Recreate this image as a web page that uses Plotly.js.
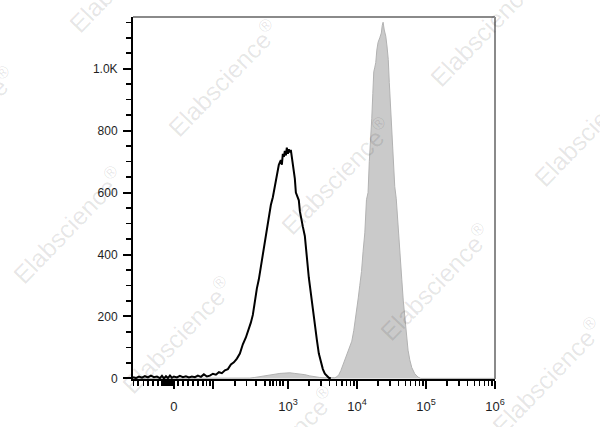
<!DOCTYPE html>
<html><head><meta charset="utf-8">
<script src="https://cdn.plot.ly/plotly-3.0.1.min.js"></script>
<style>html,body{margin:0;padding:0;background:#fff;} #chart{width:600px;height:427px;}</style>
</head><body><div id="chart"></div>
<script>
// x values are in biexponential display units (decades): 0 -> 1.343, 10^3 -> 3, 10^4 -> 4 ...
const unstainedX = [0.749,0.793,0.836,0.880,0.923,0.967,1.010,1.054,1.097,1.141,1.170,1.199,1.228,1.257,1.286,1.314,1.343,1.387,1.430,1.474,1.517,1.561,1.604,1.648,1.691,1.735,1.778,1.822,1.865,1.909,1.952,1.996,2.039,2.083,2.126,2.170,2.213,2.257,2.300,2.343,2.387,2.430,2.459,2.488,2.517,2.546,2.575,2.604,2.633,2.662,2.691,2.720,2.749,2.778,2.807,2.836,2.865,2.894,2.909,2.923,2.938,2.952,2.967,2.981,2.996,3.010,3.025,3.039,3.054,3.068,3.083,3.097,3.112,3.126,3.155,3.170,3.184,3.213,3.242,3.271,3.300,3.329,3.358,3.387,3.416,3.445,3.474,3.503,3.532,3.561,3.590,3.619];
const unstainedY = [4,1,6,2,7,3,9,4,6,1,8,0,7,1,9,2,6,3,8,4,7,3,6,4,9,5,13,6,9,15,12,20,17,26,30,45,52,64,80,110,132,158,180,205,250,290,320,360,405,435,490,530,560,585,625,650,690,705,690,725,715,735,720,745,725,740,730,738,715,700,670,645,600,590,575,540,520,490,460,380,325,275,220,170,125,80,50,30,15,7,2,0];

const stainedX = [0.749,2.400,2.445,2.517,2.590,2.662,2.735,2.807,2.880,2.952,3.025,3.097,3.170,3.242,3.314,3.387,3.459,3.532,3.604,3.677,3.706,3.735,3.764,3.797,3.836,3.865,3.894,3.923,3.952,3.991,4.017,4.039,4.064,4.087,4.112,4.136,4.159,4.177,4.194,4.213,4.228,4.242,4.257,4.271,4.286,4.304,4.329,4.351,4.365,4.377,4.394,4.416,4.435,4.452,4.467,4.481,4.499,4.517,4.532,4.546,4.568,4.590,4.619,4.648,4.670,4.691,4.713,4.739,4.764,4.793,4.836,4.884,4.923,6.0];
const stainedY = [0,0,1,3,6,9,12,14,16,17,18,16,15,12,8,5,3,2,1,2,5,12,25,45,65,80,100,120,155,210,260,300,345,410,470,577,600,700,760,840,920,990,1005,1020,1060,1085,1100,1115,1140,1150,1125,1105,1070,1030,955,900,800,720,665,620,580,500,415,320,250,200,130,91,60,35,15,4,0,0];

const xTickVals = [1.343, 1.913, 3, 4, 5, 6];
const xTickText = ['0', '', '10<sup>3</sup>', '10<sup>4</sup>', '10<sup>5</sup>', '10<sup>6</sup>'];
const xMinorVals = [0.754,0.826,0.899,0.971,1.043,1.116,1.170,1.199,1.228,1.249,1.271,1.293,1.314,1.406,1.478,1.551,1.623,1.696,1.768,1.817,1.865,
  2.228,2.397,2.532,2.662,2.735,2.778,2.832,2.880,2.928,
  3.301,3.477,3.602,3.699,3.778,3.845,3.903,3.954,
  4.301,4.477,4.602,4.699,4.778,4.845,4.903,4.954,
  5.301,5.477,5.602,5.699,5.778,5.845,5.903,5.954];
const yTickVals = [0, 200, 400, 600, 800, 1000];
const yTickText = ['0', '200', '400', '600', '800', '1.0K'];

const L = 133, R = 495, T = 17, B = 379;
function px2paper(px, py) { return [(px - L) / (R - L), (B - py) / (B - T)]; }
const wmCenters = [[124,-26],[-40,125],[223,78],[485,28],[589,128],[336,176],[68,225],[435,282],[177,335],[547,376],[280,445]];
const annotations = wmCenters.map(c => {
  const p = px2paper(c[0], c[1]);
  return {x: p[0], y: p[1], xref: 'paper', yref: 'paper', showarrow: false,
    text: 'Elabscience<sup>®</sup>', textangle: -46,
    font: {family: 'Liberation Sans, Arial, sans-serif', size: 25, color: 'rgba(0,0,0,0.1)'},
    xanchor: 'center', yanchor: 'middle'};
});

const xTickFont = {family: 'Liberation Sans, Arial, sans-serif', size: 13, color: '#1e1e1e'};
const yTickFont = {family: 'Liberation Sans, Arial, sans-serif', size: 12, color: '#1e1e1e'};

const traces = [
  {x: stainedX, y: stainedY, type: 'scatter', mode: 'lines', fill: 'tozeroy',
   fillcolor: '#cacaca', line: {color: '#b2b2b2', width: 1}, hoverinfo: 'skip'},
  {x: unstainedX, y: unstainedY, type: 'scatter', mode: 'lines',
   line: {color: '#000', width: 2}, hoverinfo: 'skip'}
];

const layout = {
  width: 600, height: 427,
  margin: {l: L, r: 600 - R, t: T, b: 427 - B, pad: 0},
  paper_bgcolor: '#fff', plot_bgcolor: '#fff',
  showlegend: false,
  xaxis: {range: [0.75, 6.0], showline: true, linecolor: '#000', linewidth: 2,
    ticks: 'outside', ticklen: 8, tickwidth: 2, tickcolor: '#000',
    tickmode: 'array', tickvals: xTickVals, ticktext: xTickText,
    showgrid: false, zeroline: false, tickfont: xTickFont, ticklabelstandoff: 6,
    minor: {tickmode: 'array', tickvals: xMinorVals, ticks: 'outside', ticklen: 5, tickwidth: 1.5, tickcolor: '#000', showgrid: false}},
  yaxis: {range: [-2, 1167], showline: true, linecolor: '#000', linewidth: 2,
    ticks: 'outside', ticklen: 8, tickwidth: 2, tickcolor: '#000',
    tickmode: 'array', tickvals: yTickVals, ticktext: yTickText,
    showgrid: false, zeroline: false, tickfont: yTickFont, ticklabelstandoff: 3,
    minor: {tick0: 0, dtick: 50, ticks: 'outside', ticklen: 5, tickwidth: 1.5, tickcolor: '#000', showgrid: false}},
  shapes: [
    {type: 'line', xref: 'paper', yref: 'paper', x0: 0, x1: 1, y0: 1, y1: 1, line: {color: '#8a8a8a', width: 2}},
    {type: 'line', xref: 'paper', yref: 'paper', x0: 1, x1: 1, y0: 0, y1: 1, line: {color: '#8a8a8a', width: 2}}
  ],
  annotations: annotations
};

Plotly.newPlot('chart', traces, layout, {staticPlot: true, displayModeBar: false});
</script>
</body></html>
